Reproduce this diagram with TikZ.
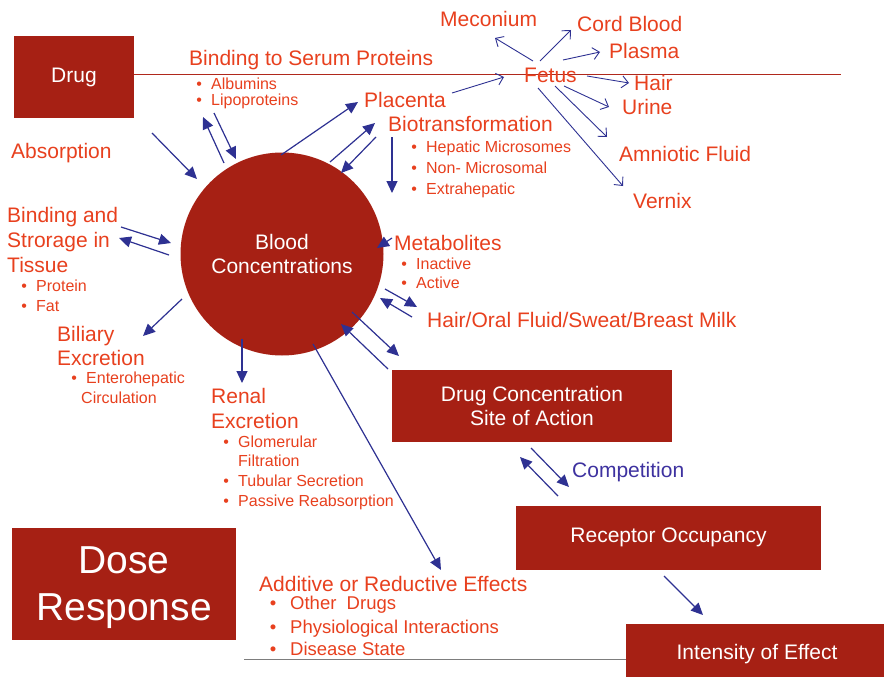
\documentclass[tikz,border=0pt]{standalone}
\usepackage{fontspec}
\setmainfont{Liberation Sans}
\usetikzlibrary{arrows.meta}
\definecolor{boxred}{RGB}{166,32,20}
\definecolor{txtred}{RGB}{232,64,30}
\definecolor{arrblue}{RGB}{46,49,146}
\definecolor{compblue}{RGB}{62,50,160}
\definecolor{lineRed}{RGB}{176,40,28}
\definecolor{lineGrey}{RGB}{125,125,125}
\newcommand\bls[1]{\llap{\textbullet\hspace{9.2pt}}#1}
\newcommand\blm[1]{\llap{\textbullet\hspace{13.8pt}}#1}
\begin{document}
\begin{tikzpicture}[x=1pt,y=-1pt,
  lbl/.style={text=txtred,font=\fontsize{21}{25}\selectfont,inner sep=0pt,anchor=base west},
  sml/.style={text=txtred,font=\fontsize{16}{19}\selectfont,inner sep=0pt,anchor=base west},
  mdl/.style={text=txtred,font=\fontsize{18.5}{22}\selectfont,inner sep=0pt,anchor=base west},
  boxn/.style={fill=boxred,text=white,inner sep=0pt,font=\fontsize{21}{24}\selectfont,align=center},
  wtxt/.style={text=white,inner sep=0pt,align=center},
  arr/.style={draw=arrblue,line width=1.2pt,-{Triangle[length=12pt,width=11pt]}},
  farr/.style={draw=arrblue,line width=0.9pt,-{Straight Barb[length=6.5pt,width=12pt]}}]
\useasboundingbox (0,0) rectangle (884,677);
\fill[white] (0,0) rectangle (884,677);

% lines
\coordinate (tlA) at (134,75);
\coordinate (tlB) at (841,75);
\draw[lineRed,line width=1pt] (tlA) -- (tlB);
\coordinate (glA) at (244,659);
\coordinate (glB) at (626,659);
\draw[lineGrey,line width=1pt] (glA) -- (glB);

% boxes
\node[boxn,minimum width=120pt,minimum height=82pt] (drug) at (74,77) {Drug};
\node[boxn,circle,minimum size=203pt] (blood) at (282,254) {Blood\\Concentrations};
\node[boxn,minimum width=280pt,minimum height=72pt] (dcsa) at (532,406) {Drug Concentration\\Site of Action};
\node[boxn,minimum width=305pt,minimum height=64pt] (recep) at (668.5,537.5) {Receptor Occupancy};
\node[boxn,minimum width=258pt,minimum height=53pt] (inten) at (755,650.5) {};
\node[wtxt,font=\fontsize{21}{24}\selectfont] (intentxt) at (757,654.5) {Intensity of Effect};
\node[boxn,minimum width=224pt,minimum height=112pt] (dose) at (124,584) {};
\node[wtxt,font=\fontsize{39}{47}\selectfont] (dosetxt) at (124,588) {Dose\\Response};

% labels
\node[lbl] (serum) at (189,66) {Binding to Serum Proteins};
\node[sml] (albu) at (211,89.5) {\bls{Albumins}};
\node[sml] (lipo) at (211,106) {\bls{Lipoproteins}};
\node[lbl] (plac) at (364,107) {Placenta};
\node[lbl] (biot) at (388,131) {Biotransformation};
\node[sml] (hepa) at (426,152) {\bls{Hepatic Microsomes}};
\node[sml] (nonm) at (426,173) {\bls{Non- Microsomal}};
\node[sml] (extr) at (426,194) {\bls{Extrahepatic}};
\node[lbl] (abso) at (11,158) {Absorption};
\node[lbl] (meco) at (440,27) {Meconium};
\node[lbl] (cord) at (577,32) {Cord Blood};
\node[lbl] (plas) at (609,59) {Plasma};
\node[lbl] (fetus) at (524,82) {Fetus};
\node[lbl] (hair) at (634,91) {Hair};
\node[lbl] (urine) at (622,114) {Urine};
\node[lbl] (amni) at (619,161) {Amniotic Fluid};
\node[lbl] (vern) at (633,208) {Vernix};
\node[lbl] (bst1) at (7,222) {Binding and};
\node[lbl] (bst2) at (7,247) {Strorage in};
\node[lbl] (bst3) at (7,272) {Tissue};
\node[sml] (prot) at (36,291) {\bls{Protein}};
\node[sml] (fat) at (36,311) {\bls{Fat}};
\node[lbl] (bil1) at (57,341) {Biliary};
\node[lbl] (bil2) at (57,365) {Excretion};
\node[sml] (ente) at (86,383) {\bls{Enterohepatic}};
\node[sml] (circ) at (81,403) {Circulation};
\node[lbl] (ren1) at (211,403) {Renal};
\node[lbl] (ren2) at (211,428) {Excretion};
\node[sml] (glom) at (238,447) {\bls{Glomerular}};
\node[sml] (filt) at (238,466) {Filtration};
\node[sml] (tubu) at (238,486) {\bls{Tubular Secretion}};
\node[sml] (pass) at (238,506) {\bls{Passive Reabsorption}};
\node[lbl] (meta) at (394,250) {Metabolites};
\node[sml] (inac) at (416,269) {\bls{Inactive}};
\node[sml] (acti) at (416,288) {\bls{Active}};
\node[lbl] (hofs) at (427,327) {Hair/Oral Fluid/Sweat/Breast Milk};
\node[lbl,text=compblue] (comp) at (572,477) {Competition};
\node[lbl] (addi) at (259,591) {Additive or Reductive Effects};
\node[mdl] (othe) at (290,609) {\blm{Other~ Drugs}};
\node[mdl] (phys) at (290,633) {\blm{Physiological Interactions}};
\node[mdl] (dise) at (290,655) {\blm{Disease State}};

% arrow end points
\path (152,133) coordinate (a1s) (197,179) coordinate (a1e)
      (224,163) coordinate (a2s) (203,117) coordinate (a2e)
      (214,113) coordinate (a3s) (236,159) coordinate (a3e)
      (281,155) coordinate (a4s) (358,102) coordinate (a4e)
      (330,162) coordinate (a5s) (375,123) coordinate (a5e)
      (376,137) coordinate (a6s) (341,173) coordinate (a6e)
      (392,137) coordinate (a7s) (392,193) coordinate (a7e)
      (121,227) coordinate (a8s) (171,243) coordinate (a8e)
      (169,255) coordinate (a9s) (119,238) coordinate (a9e)
      (182,299) coordinate (a10s) (143,336) coordinate (a10e)
      (242,339) coordinate (a11s) (242,383) coordinate (a11e)
      (392,238) coordinate (a12s) (377,248) coordinate (a12e)
      (385,289) coordinate (a13s) (417,307) coordinate (a13e)
      (412,317) coordinate (a14s) (380,298) coordinate (a14e)
      (352,312) coordinate (a15s) (399,356) coordinate (a15e)
      (388,369) coordinate (a16s) (341,324) coordinate (a16e)
      (313,344) coordinate (a17s) (441,570) coordinate (a17e)
      (531,448) coordinate (a18s) (569,487) coordinate (a18e)
      (558,496) coordinate (a19s) (520,457) coordinate (a19e)
      (664,576) coordinate (a20s) (703,615) coordinate (a20e);
\path (452,93) coordinate (f1s) (504,77) coordinate (f1e)
      (533,61) coordinate (f2s) (495,38) coordinate (f2e)
      (540,61) coordinate (f3s) (571,30) coordinate (f3e)
      (563,60) coordinate (f4s) (600,52) coordinate (f4e)
      (587,76) coordinate (f5s) (629,83) coordinate (f5e)
      (564,86) coordinate (f6s) (609,107) coordinate (f6e)
      (555,86) coordinate (f7s) (607,137) coordinate (f7e)
      (538,88) coordinate (f8s) (623,186) coordinate (f8e);

\foreach \i in {1,...,20} {\draw[arr] (a\i s) -- (a\i e);}
\foreach \i in {1,...,8} {\draw[farr] (f\i s) -- (f\i e);}
\end{tikzpicture}
\end{document}
